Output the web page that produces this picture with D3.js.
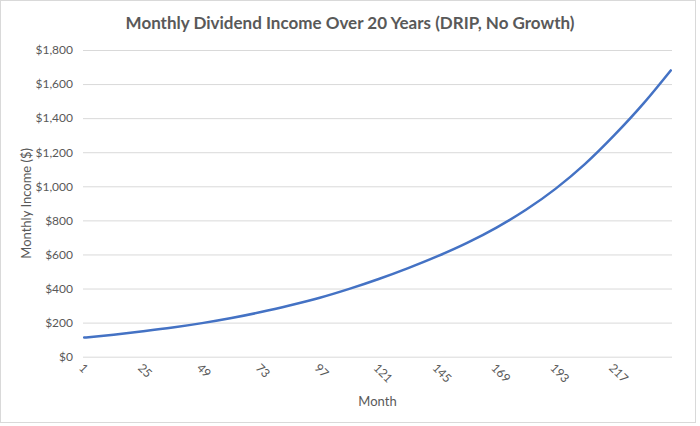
<html lang="en">
<head>
    <meta charset="UTF-8">
    <title>Monthly Dividend Income</title>
    <script src="https://cdn.jsdelivr.net/npm/d3@7" type="text/javascript"></script>
    <style>
        body { margin: 0; background: #fff; }
    </style>
</head>
<body>
    <svg id="svg"></svg>

    <script>

        var WIDTH = 700;
        var HEIGHT = 426;

        // data (every 12 months)
        var months = [1, 13, 25, 37, 49, 61, 73, 85, 97, 109, 121, 133, 145, 157, 169, 181, 193, 205, 217, 229, 240];
        var income = [112, 129, 149, 171, 197, 227, 262, 302, 346, 398, 456, 520, 590, 668, 758, 862, 985, 1130, 1300, 1488, 1680];
        var monthTicks = [1, 25, 49, 73, 97, 121, 145, 169, 193, 217];
        var incomeTicks = [0, 200, 400, 600, 800, 1000, 1200, 1400, 1600, 1800];

        var LEFT = 83, RIGHT = 672, TOP = 50, BOTTOM = 356.7;
        var FONT = "Lato, 'Open Sans', sans-serif";
        var GREY = "#595959";

        var dataset = months.map(function(m, i){
            return {month: m, value: income[i]};
        });

        var xScale = d3.scaleBand()
                        .domain(d3.range(1, 241))
                        .range([LEFT, RIGHT]);

        var yScale = d3.scaleLinear()
                        .domain([0, 1800])
                        .range([BOTTOM, TOP]);

        var svg = d3.select('#svg')
                    .attr("width", WIDTH)
                    .attr("height", HEIGHT)
                    .style("display", "block");

        // chart border
        svg.append("rect")
            .attr("x", 0.5)
            .attr("y", 0.5)
            .attr("width", 695)
            .attr("height", 422)
            .attr("fill", "white")
            .attr("stroke", "#d9d9d9");

        // gridlines + y labels
        var yAxis = d3.axisLeft(yScale)
                        .tickValues(incomeTicks)
                        .tickSize(-(RIGHT - LEFT))
                        .tickPadding(10)
                        .tickFormat(function(d){ return "$" + d3.format(",")(d); });

        var gy = svg.append("g")
            .attr("class", "y axis")
            .attr("transform", "translate(" + LEFT + ",0)")
            .call(yAxis);
        gy.select(".domain").remove();
        gy.selectAll("line").attr("stroke", "#d9d9d9").attr("stroke-width", 1);
        gy.selectAll("text")
            .attr("fill", GREY)
            .attr("font-family", FONT)
            .attr("font-size", "12px");

        // x labels (rotated)
        var cx = function(m){ return xScale(m) + xScale.bandwidth() / 2; };

        svg.selectAll("text.xlab")
            .data(monthTicks)
            .enter()
            .append("text")
            .attr("class", "xlab")
            .attr("transform", function(d){
                return "translate(" + (cx(d) - 3) + "," + (BOTTOM + 9) + ") rotate(45)";
            })
            .attr("text-anchor", "start")
            .attr("dy", "0.35em")
            .attr("fill", GREY)
            .attr("font-family", FONT)
            .attr("font-size", "12px")
            .text(function(d){ return d; });

        // line
        var line = d3.line()
                    .x(function(d){ return cx(d.month); })
                    .y(function(d){ return yScale(d.value); })
                    .curve(d3.curveMonotoneX);

        svg.append("path")
            .datum(dataset)
            .attr("d", line)
            .attr("fill", "none")
            .attr("stroke", "#4472C4")
            .attr("stroke-width", 2.5)
            .attr("stroke-linecap", "round");

        // titles
        svg.append("text")
            .attr("x", 350)
            .attr("y", 29)
            .attr("text-anchor", "middle")
            .attr("fill", GREY)
            .attr("font-family", FONT)
            .attr("font-weight", "bold")
            .attr("font-size", "17px")
            .text("Monthly Dividend Income Over 20 Years (DRIP, No Growth)");

        svg.append("text")
            .attr("x", (LEFT + RIGHT) / 2)
            .attr("y", 406)
            .attr("text-anchor", "middle")
            .attr("fill", GREY)
            .attr("font-family", FONT)
            .attr("font-size", "13px")
            .text("Month");

        svg.append("text")
            .attr("transform", "translate(31," + (TOP + BOTTOM) / 2 + ") rotate(-90)")
            .attr("text-anchor", "middle")
            .attr("fill", GREY)
            .attr("font-family", FONT)
            .attr("font-size", "13px")
            .text("Monthly Income ($)");

    </script>

</body>
</html>
